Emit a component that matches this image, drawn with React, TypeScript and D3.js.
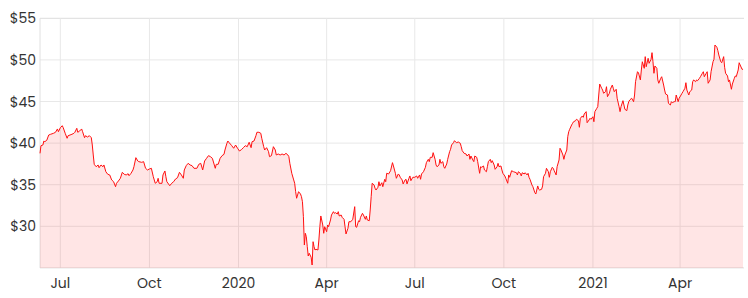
import React from "react";
import * as d3 from "d3";

const START_DATE = "2019-06-10";
const END_DATE = "2021-06-06";
const Y_MIN = 25;
const Y_MAX = 55;
const yTickValues = [30, 35, 40, 45, 50, 55];

// days since START_DATE
const dayOffsets = [
  0, 1, 3, 4, 5, 7, 9, 11, 14, 16, 18, 19, 21, 23, 24, 26, 28, 29, 31, 33, 35, 36, 38, 39, 41, 43, 44, 46, 47, 49,
  51, 53, 54, 55, 56, 58, 60, 61, 63, 65, 66, 68, 70, 72, 74, 76, 78, 79, 81, 83, 85, 87, 89, 91, 92, 94, 96, 97, 99, 101,
  102, 105, 107, 109, 111, 113, 115, 117, 119, 121, 122, 123, 126, 127, 129, 130, 131, 134, 136, 138, 140, 142, 144, 146, 148, 149, 151, 153, 155, 157,
  159, 162, 164, 166, 168, 170, 172, 174, 176, 178, 181, 182, 184, 186, 188, 190, 191, 193, 194, 195, 198, 200, 202, 204, 206, 208, 210, 212, 214, 216,
  218, 219, 221, 223, 224, 226, 228, 229, 231, 232, 234, 236, 237, 239, 241, 243, 244, 246, 248, 250, 252, 254, 256, 257, 258, 260, 262, 263, 264, 265,
  266, 267, 269, 270, 271, 272, 273, 274, 275, 276, 277, 278, 280, 281, 282, 283, 284, 285, 287, 288, 289, 290, 292, 293, 294, 296, 297, 298, 300, 301,
  303, 304, 305, 307, 308, 309, 311, 312, 314, 315, 316, 318, 319, 321, 323, 325, 326, 327, 329, 330, 331, 333, 334, 336, 337, 338, 340, 341, 342, 343,
  345, 346, 347, 349, 350, 351, 353, 354, 356, 357, 358, 360, 362, 364, 365, 367, 368, 370, 371, 372, 374, 375, 377, 378, 379, 381, 382, 383, 385, 387,
  389, 390, 392, 393, 394, 396, 398, 399, 401, 402, 403, 405, 406, 408, 409, 410, 412, 413, 414, 416, 417, 418, 420, 421, 423, 424, 425, 427, 428, 430,
  432, 434, 435, 436, 438, 440, 441, 443, 444, 445, 447, 448, 449, 451, 452, 454, 455, 456, 458, 459, 461, 462, 463, 465, 466, 467, 469, 470, 472, 473,
  474, 476, 477, 478, 480, 481, 483, 484, 485, 487, 489, 492, 493, 494, 496, 497, 498, 500, 501, 503, 504, 505, 506, 508, 509, 511, 512, 514, 515, 516,
  518, 519, 520, 522, 523, 525, 526, 527, 529, 530, 531, 533, 534, 536, 537, 538, 540, 541, 542, 544, 545, 546, 547, 549, 550, 551, 553, 554, 556, 557,
  558, 560, 561, 562, 564, 565, 567, 568, 569, 571, 572, 573, 575, 576, 577, 578, 580, 581, 582, 584, 585, 586, 588, 589, 591, 592, 593, 595, 596, 598,
  599, 600, 602, 603, 604, 606, 607, 608, 609, 611, 613, 614, 615, 617, 618, 620, 621, 622, 624, 625, 626, 628, 629, 631, 632, 633, 634, 635, 637, 638,
  639, 641, 642, 644, 645, 646, 648, 649, 651, 652, 653, 655, 656, 657, 659, 660, 662, 663, 664, 666, 667, 668, 670, 671, 673, 674, 675, 677, 678, 679,
  681, 682, 684, 685, 686, 688, 689, 690, 692, 693, 695, 696, 697, 699, 700, 701, 703, 704, 706, 707, 708, 710, 711, 712, 714, 715, 717, 718, 719, 721,
  722, 723, 725, 726,
];

// closing price, USD
const prices = [
  38.77, 39.69, 39.77, 40.25, 40.17, 40.34, 40.97, 41.06, 41.18, 41.30, 41.70, 41.37, 41.85, 42.09, 41.85, 41.18, 40.58, 40.89, 40.97, 41.06, 41.18, 41.30, 41.78, 41.30, 41.46, 41.70, 41.37, 40.65, 40.89, 40.73,
  40.89, 40.65, 39.77, 38.57, 37.45, 37.16, 37.37, 37.04, 37.37, 37.16, 37.37, 36.56, 36.25, 36.17, 35.57, 35.36, 34.76, 35.17, 35.45, 35.77, 36.49, 36.25, 36.17, 36.32, 36.08, 36.37, 36.77, 37.16, 38.25, 37.85,
  37.77, 37.69, 37.77, 36.97, 36.77, 36.89, 36.97, 35.96, 35.17, 35.36, 35.77, 35.17, 35.17, 36.17, 36.65, 35.96, 35.36, 34.88, 35.17, 35.36, 35.69, 35.84, 36.49, 36.17, 35.77, 36.77, 37.29, 37.57, 37.37, 37.29,
  36.97, 36.97, 37.45, 37.57, 36.77, 37.85, 38.17, 38.49, 38.37, 38.17, 36.97, 37.45, 37.45, 38.17, 38.49, 38.65, 39.17, 39.98, 40.25, 40.10, 39.69, 39.38, 39.77, 39.38, 39.05, 39.21, 39.45, 39.69, 39.57, 40.10,
  39.45, 40.17, 40.25, 40.89, 41.30, 41.30, 41.18, 40.58, 39.57, 39.17, 39.45, 38.97, 38.37, 38.49, 39.57, 39.17, 38.57, 38.69, 38.57, 38.69, 38.57, 38.77, 38.57, 38.37, 37.57, 36.37, 35.57, 35.17, 34.16, 33.37,
  33.76, 34.16, 33.88, 33.56, 32.96, 31.16, 27.75, 29.16, 28.75, 27.55, 26.43, 26.76, 26.28, 25.35, 28.15, 27.55, 27.15, 27.24, 27.15, 28.35, 29.95, 31.24, 30.16, 29.16, 29.95, 29.35, 30.16, 29.95, 30.76, 31.36,
  31.76, 31.56, 31.64, 31.48, 31.76, 31.24, 31.36, 31.08, 30.84, 29.95, 29.08, 29.76, 30.55, 30.55, 30.84, 32.36, 29.95, 29.88, 30.67, 30.55, 31.08, 31.56, 31.36, 30.84, 31.24, 30.76, 30.67, 31.96, 33.56, 35.17,
  34.97, 34.57, 34.36, 34.69, 35.36, 34.85, 35.24, 34.76, 35.65, 35.36, 36.37, 36.29, 36.68, 37.65, 37.25, 36.37, 35.77, 36.29, 36.17, 35.89, 35.57, 35.09, 35.57, 35.65, 35.09, 35.77, 36.05, 35.48, 35.89, 35.89,
  36.05, 35.77, 36.17, 35.65, 36.29, 36.56, 37.09, 37.65, 38.05, 37.77, 38.29, 38.29, 38.85, 38.05, 37.37, 37.16, 37.37, 38.05, 37.57, 37.77, 37.16, 36.97, 37.49, 38.05, 38.97, 39.26, 39.77, 40.05, 40.29, 40.05,
  40.13, 39.98, 39.57, 39.09, 38.77, 38.69, 38.45, 38.69, 38.05, 38.45, 37.97, 37.77, 38.45, 38.29, 37.77, 36.37, 37.16, 37.09, 37.25, 36.77, 36.56, 37.16, 37.77, 38.05, 37.65, 37.89, 37.37, 36.85, 37.16, 37.57,
  37.16, 37.25, 36.77, 36.37, 36.05, 35.77, 35.17, 36.17, 35.89, 36.68, 36.56, 36.44, 36.17, 36.56, 36.37, 36.05, 36.44, 36.29, 36.44, 36.17, 36.37, 35.89, 35.65, 34.97, 34.76, 34.04, 33.88, 34.85, 34.45, 34.36,
  34.45, 34.85, 35.96, 36.37, 36.97, 36.56, 35.89, 36.56, 37.09, 36.97, 36.68, 36.17, 37.16, 37.97, 39.38, 39.17, 38.57, 38.05, 38.57, 39.17, 40.77, 41.37, 41.66, 42.18, 42.38, 42.57, 42.69, 42.86, 42.69, 41.90,
  42.98, 43.26, 43.10, 43.50, 43.78, 42.45, 42.78, 42.98, 42.86, 43.17, 42.57, 43.78, 44.18, 44.38, 45.78, 47.10, 46.59, 46.38, 45.99, 46.18, 46.78, 45.58, 45.99, 46.47, 46.98, 46.59, 46.18, 46.47, 45.39, 44.38,
  43.78, 44.38, 45.10, 44.58, 44.06, 43.90, 44.58, 44.98, 45.18, 45.39, 44.98, 45.78, 47.38, 48.58, 48.46, 47.59, 48.79, 49.78, 48.99, 50.39, 49.18, 50.19, 49.59, 50.07, 50.87, 49.78, 48.39, 49.27, 48.99, 47.59,
  47.19, 47.79, 47.98, 46.98, 46.38, 45.90, 45.78, 44.78, 44.58, 44.98, 44.86, 44.98, 44.98, 45.78, 44.98, 45.39, 45.78, 45.99, 46.18, 46.59, 47.26, 46.38, 45.78, 46.18, 46.38, 47.38, 47.59, 47.38, 47.59, 47.50,
  47.79, 47.98, 48.39, 48.58, 47.98, 48.39, 48.58, 47.19, 47.59, 48.58, 49.78, 50.07, 51.79, 51.52, 51.11, 50.59, 49.78, 49.66, 50.39, 49.11, 48.39, 48.07, 47.38, 47.59, 46.47, 47.10, 47.79, 48.07, 47.98, 48.79,
  49.66, 49.39, 48.87, 48.87,
];

const WIDTH = 748;
const HEIGHT = 298;
const margin = { left: 40, right: 4, top: 18.3, bottom: 30.1 };

const DAY = 86400000;
const parse = (s: string) => {
  const [y, m, d] = s.split("-").map(Number);
  return new Date(Date.UTC(y, m - 1, d));
};

export default function App() {
  const start = parse(START_DATE);
  const end = parse(END_DATE);
  const data = dayOffsets.map((d, i) => ({
    date: new Date(start.getTime() + d * DAY),
    price: prices[i],
  }));

  const x = d3.scaleUtc().domain([start, end]).range([margin.left, WIDTH - margin.right]);
  const y = d3.scaleLinear().domain([Y_MIN, Y_MAX]).range([HEIGHT - margin.bottom, margin.top]);

  const xTicks = x.ticks(d3.utcMonth.every(3)!);
  const fmt = (d: Date) => (d.getUTCMonth() === 0 ? d3.utcFormat("%Y")(d) : d3.utcFormat("%b")(d));

  const line = d3
    .line<{ date: Date; price: number }>()
    .x((d) => x(d.date))
    .y((d) => y(d.price));
  const area = d3
    .area<{ date: Date; price: number }>()
    .x((d) => x(d.date))
    .y0(y(Y_MIN))
    .y1((d) => y(d.price));

  const font = "Poppins, Inter, 'Open Sans', sans-serif";
  const x0 = margin.left;
  const x1 = WIDTH - margin.right;
  const yb = y(Y_MIN);

  return (
    <svg
      width={WIDTH}
      height={HEIGHT}
      style={{ position: "absolute", left: 0, top: 0, display: "block", background: "#fff" }}
    >
      {yTickValues.map((v) => (
        <line key={"gy" + v} x1={x0} x2={x1} y1={y(v)} y2={y(v)} stroke={v === Y_MAX ? "#dcdcdc" : "#e8e8e8"} strokeWidth={1} />
      ))}
      {xTicks.map((t) => (
        <line key={"gx" + t.getTime()} x1={x(t)} x2={x(t)} y1={margin.top} y2={yb} stroke="#e8e8e8" strokeWidth={1} />
      ))}
      <line x1={x0} x2={x0} y1={margin.top} y2={yb} stroke="#e0e0e0" strokeWidth={1} />
      <line x1={x0} x2={x1} y1={yb} y2={yb} stroke="#e0e0e0" strokeWidth={1} />
      <path d={area(data) || ""} fill="rgba(255,0,0,0.1)" stroke="none" />
      <path d={line(data) || ""} fill="none" stroke="#ff1010" strokeWidth={1} strokeLinejoin="round" />
      {yTickValues.map((v) => (
        <text
          key={"ty" + v}
          x={36}
          y={y(v)}
          textAnchor="end"
          dominantBaseline="central"
          fontFamily={font}
          fontSize={14}
          fill="#333"
        >
          {"$" + v}
        </text>
      ))}
      {xTicks.map((t) => (
        <text
          key={"tx" + t.getTime()}
          x={x(t)}
          y={288}
          textAnchor="middle"
          fontFamily={font}
          fontSize={14}
          fill="#333"
        >
          {fmt(t)}
        </text>
      ))}
    </svg>
  );
}
